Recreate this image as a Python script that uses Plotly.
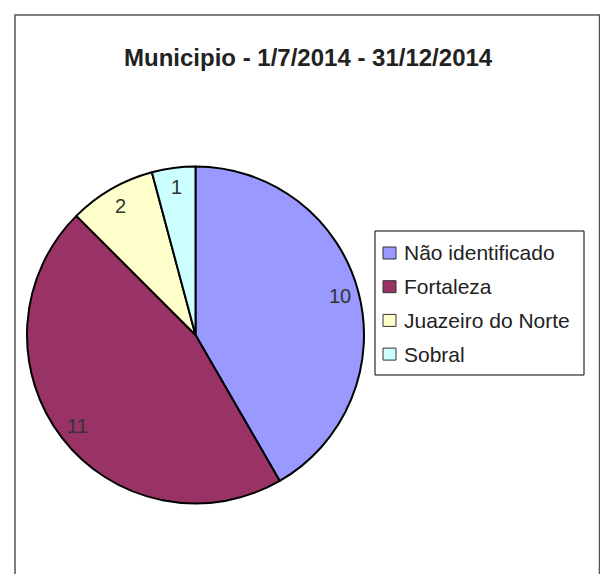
import math
import plotly.graph_objects as go

title = "Municipio - 1/7/2014 - 31/12/2014"
categories = ["Não identificado", "Fortaleza", "Juazeiro do Norte", "Sobral"]
values = [10, 11, 2, 1]
colors = ["#9999FF", "#993366", "#FFFFCC", "#CCFFFF"]

# the page body has an 8px margin; lay out in screen pixels and shift
OFF = 8
W, H = 608 - 2 * OFF, 582 - 2 * OFF
FONT = "Liberation Sans, Arial, sans-serif"

# pie geometry (screen pixels)
cx, cy, R = 195.5, 335.0, 168.5


def px(x):
    return (x - OFF) / W


def py(y):
    return 1 - (y - OFF) / H


fig = go.Figure()
fig.add_trace(go.Pie(
    labels=categories,
    values=values,
    sort=False,
    direction="clockwise",
    rotation=0,
    marker=dict(colors=colors, line=dict(color="black", width=2)),
    textinfo="none",
    hoverinfo="label+value",
    showlegend=False,
    domain=dict(x=[px(cx - R), px(cx + R)], y=[py(cy + R), py(cy - R)]),
))

annotations = []
shapes = []

# value labels placed near the rim, at each slice's mid-angle
total = sum(values)
cum = 0
for v in values:
    mid = (cum + v / 2) / total * 2 * math.pi
    cum += v
    lx = cx + 0.885 * R * math.sin(mid)
    ly = cy - 0.885 * R * math.cos(mid)
    annotations.append(dict(
        x=px(lx), y=py(ly), xref="paper", yref="paper",
        text=str(v), showarrow=False,
        font=dict(family=FONT, size=20, color="#333333"),
        xanchor="center", yanchor="middle",
    ))

# title
annotations.append(dict(
    x=px(308), y=py(58), xref="paper", yref="paper",
    text="<b>" + title + "</b>", showarrow=False,
    font=dict(family=FONT, size=24, color="#222222"),
    xanchor="center", yanchor="middle",
))

# legend
leg_x0, leg_y0, leg_x1, leg_y1 = 375, 231, 584, 375
shapes.append(dict(type="rect", xref="paper", yref="paper",
                   x0=px(leg_x0), x1=px(leg_x1), y0=py(leg_y1), y1=py(leg_y0),
                   line=dict(color="black", width=1), fillcolor="white", layer="below"))
row0, step = 253, 33.7
for i, (cat, col) in enumerate(zip(categories, colors)):
    yc = row0 + i * step
    shapes.append(dict(type="rect", xref="paper", yref="paper",
                       x0=px(383), x1=px(396), y0=py(yc + 6), y1=py(yc - 6),
                       line=dict(color="#333333", width=1), fillcolor=col))
    annotations.append(dict(
        x=px(402), y=py(yc), xref="paper", yref="paper",
        text=cat, showarrow=False,
        font=dict(family=FONT, size=21, color="#222222"),
        xanchor="left", yanchor="middle",
    ))

# outer chart border
shapes.append(dict(type="rect", xref="paper", yref="paper",
                   x0=px(15), x1=px(599.5), y0=py(620), y1=py(15),
                   line=dict(color="#555555", width=1.5), layer="below"))

fig.update_layout(
    width=W, height=H,
    margin=dict(l=0, r=0, t=0, b=0),
    paper_bgcolor="white", plot_bgcolor="white",
    showlegend=False,
    annotations=annotations,
    shapes=shapes,
)

fig.write_html("out.html")
